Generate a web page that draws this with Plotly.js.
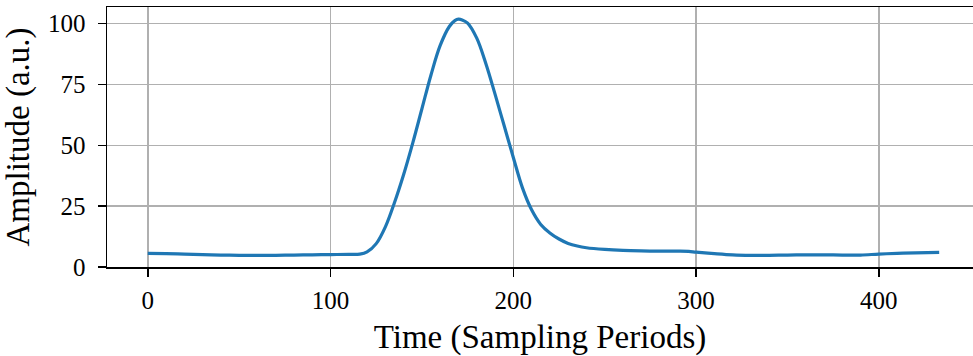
<!DOCTYPE html>
<html>
<head>
<meta charset="utf-8">
<script src="https://cdn.plot.ly/plotly-3.0.1.min.js"></script>
<style>html,body{margin:0;padding:0;background:#fff;}#chart{width:973px;height:356px;}</style>
</head>
<body>
<div id="chart"></div>
<script>
var timeSamples = [0,10,20,30,40,50,60,70,80,90,100,110,116,120,125,130,135,140,145,150,155,160,165,168,170,172,175,180,185,190,195,200,205,210,215,220,225,230,235,240,250,260,270,280,290,296,300,310,320,330,340,350,360,370,380,390,400,410,420,433];
var amplitude = [5.6,5.5,5.3,5.1,4.9,4.8,4.8,4.8,4.9,5.0,5.1,5.2,5.3,6.2,9.6,16.5,26.5,38,51,65,79,91,98.8,101.2,101.8,101.5,100.2,94,83.5,71,58,45,32.5,23.5,17.5,14,11.5,9.7,8.6,7.9,7.2,6.8,6.6,6.5,6.5,6.4,6.1,5.5,5.0,4.8,4.8,4.9,5.0,5.0,4.9,4.9,5.3,5.6,5.8,6.0];
var xTicks = [0,100,200,300,400];
var yTicks = [0,25,50,75,100];

var font = "Liberation Serif, serif";
var trace = {
  x: timeSamples, y: amplitude, type: 'scatter', mode: 'lines',
  line: {color: '#1f77b4', width: 3.2, shape: 'spline', smoothing: 1},
  hoverinfo: 'skip'
};
var layout = {
  width: 973, height: 356,
  margin: {l: 107, r: 0, t: 7, b: 89},
  paper_bgcolor: '#fff', plot_bgcolor: '#fff',
  showlegend: false,
  font: {family: font, color: '#000', size: 25},
  xaxis: {
    range: [-22.3, 451.5], tickvals: xTicks, ticktext: xTicks.map(String),
    showgrid: true, gridcolor: '#b0b0b0', gridwidth: 1.5,
    zeroline: false, showline: true, linecolor: '#000', linewidth: 1.5, mirror: true,
    ticks: 'outside', ticklen: 8, tickwidth: 1.5, tickcolor: '#000',
    ticklabelstandoff: 2,
    tickfont: {family: font, size: 25, color: '#000'},
    title: {text: 'Time (Sampling Periods)', font: {family: font, size: 33, color: '#000'}, standoff: 12}
  },
  yaxis: {
    range: [0, 106.8], tickvals: yTicks, ticktext: yTicks.map(String),
    showgrid: true, gridcolor: '#b0b0b0', gridwidth: 1.5,
    zeroline: false, showline: true, linecolor: '#000', linewidth: 1.5,
    ticks: 'outside', ticklen: 8, tickwidth: 1.5, tickcolor: '#000',
    ticklabelstandoff: 7,
    tickfont: {family: font, size: 25, color: '#000'},
    title: {text: 'Amplitude (a.u.)', font: {family: font, size: 33, color: '#000'}, standoff: 12}
  }
};
Plotly.newPlot('chart', [trace], layout, {staticPlot: true, displayModeBar: false});
</script>
</body>
</html>
